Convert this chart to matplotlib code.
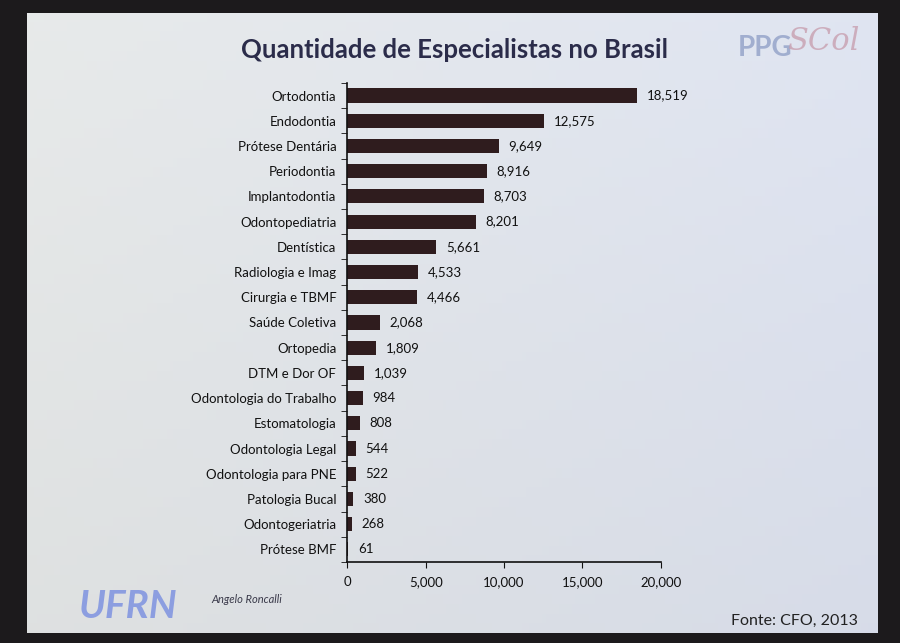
import matplotlib
matplotlib.use("Agg")
import matplotlib.pyplot as plt
import numpy as np

categories = ["Ortodontia", "Endodontia", "Prótese Dentária", "Periodontia",
              "Implantodontia", "Odontopediatria", "Dentística", "Radiologia e Imag",
              "Cirurgia e TBMF", "Saúde Coletiva", "Ortopedia", "DTM e Dor OF",
              "Odontologia do Trabalho", "Estomatologia", "Odontologia Legal",
              "Odontologia para PNE", "Patologia Bucal", "Odontogeriatria", "Prótese BMF"]
values = [18519, 12575, 9649, 8916, 8703, 8201, 5661, 4533, 4466, 2068,
          1809, 1039, 984, 808, 544, 522, 380, 268, 61]
xticks = [0, 5000, 10000, 15000, 20000]

plt.rcParams['font.family'] = ['Lato', 'DejaVu Sans']

fig = plt.figure(figsize=(9, 6.43), dpi=100)
fig.patch.set_facecolor('#1c1a1c')

# slide background with gradient
bg = fig.add_axes([0.03, 0.015, 0.945, 0.965])
grad = np.linspace(0, 1, 256)
img = np.zeros((64, 256, 3))
left_c = np.array([0.89, 0.90, 0.90])
right_c = np.array([0.86, 0.88, 0.93])
for i in range(3):
    img[:, :, i] = left_c[i] + (right_c[i] - left_c[i]) * grad[None, :]
vert = np.linspace(0.98, 1.02, 64)[:, None, None]
img = np.clip(img * vert, 0, 1)
bg.imshow(img, aspect='auto', extent=[0, 1, 0, 1], origin='lower')
bg.set_xlim(0, 1); bg.set_ylim(0, 1)
bg.axis('off')

# logos / decorations
fig.text(0.82, 0.925, "PPG", fontsize=20, fontweight='bold', color='#9aa8cc',
         ha='left', va='center', alpha=0.9)
fig.text(0.875, 0.935, "SCol", fontsize=22, style='italic', color='#c8a0b0',
         ha='left', va='center', alpha=0.8, family=['DejaVu Serif'])
fig.text(0.088, 0.057, "UFRN", fontsize=28, fontweight='bold', style='italic',
         color='#8c9ee0', ha='left', va='center')
fig.text(0.235, 0.068, "Angelo Roncalli", fontsize=8, style='italic',
         color='#3a3a4a', ha='left', va='center')

fig.text(0.505, 0.922, "Quantidade de Especialistas no Brasil", fontsize=18.5,
         fontweight='bold', color='#2b2c4a', ha='center', va='center')
fig.text(0.953, 0.035, "Fonte: CFO, 2013", fontsize=11.5, color='#222222',
         ha='right', va='center')

ax = fig.add_axes([0.386, 0.126, 0.348, 0.745])
ax.set_facecolor('none')
y = np.arange(len(categories))
ax.barh(y, values, height=0.56, color='#2f1c1e')
ax.set_ylim(len(categories) - 0.5, -0.5)
ax.set_xlim(0, 20000)
ax.set_yticks(y)
ax.set_yticklabels(categories, fontsize=9.5, color='#111111')
ax.set_yticks(np.arange(-0.5, len(categories), 1), minor=True)
ax.tick_params(axis='y', which='major', length=0, pad=8)
ax.tick_params(axis='y', which='minor', length=4, direction='out', color='#111111')
ax.set_xticks(xticks)
ax.set_xticklabels([f"{v:,}" for v in xticks], fontsize=9.5, color='#111111')
ax.tick_params(axis='x', length=4, direction='out', pad=6, color='#111111')
for s in ['top', 'right']:
    ax.spines[s].set_visible(False)
for s in ['left', 'bottom']:
    ax.spines[s].set_color('#111111')
    ax.spines[s].set_linewidth(1.2)

for yi, v in zip(y, values):
    ax.annotate(f"{v:,}", xy=(v, yi), xytext=(7, 0), textcoords='offset points',
                va='center', ha='left', fontsize=9.5, color='#111111')

fig.savefig("out.png", dpi=100, facecolor=fig.get_facecolor())
